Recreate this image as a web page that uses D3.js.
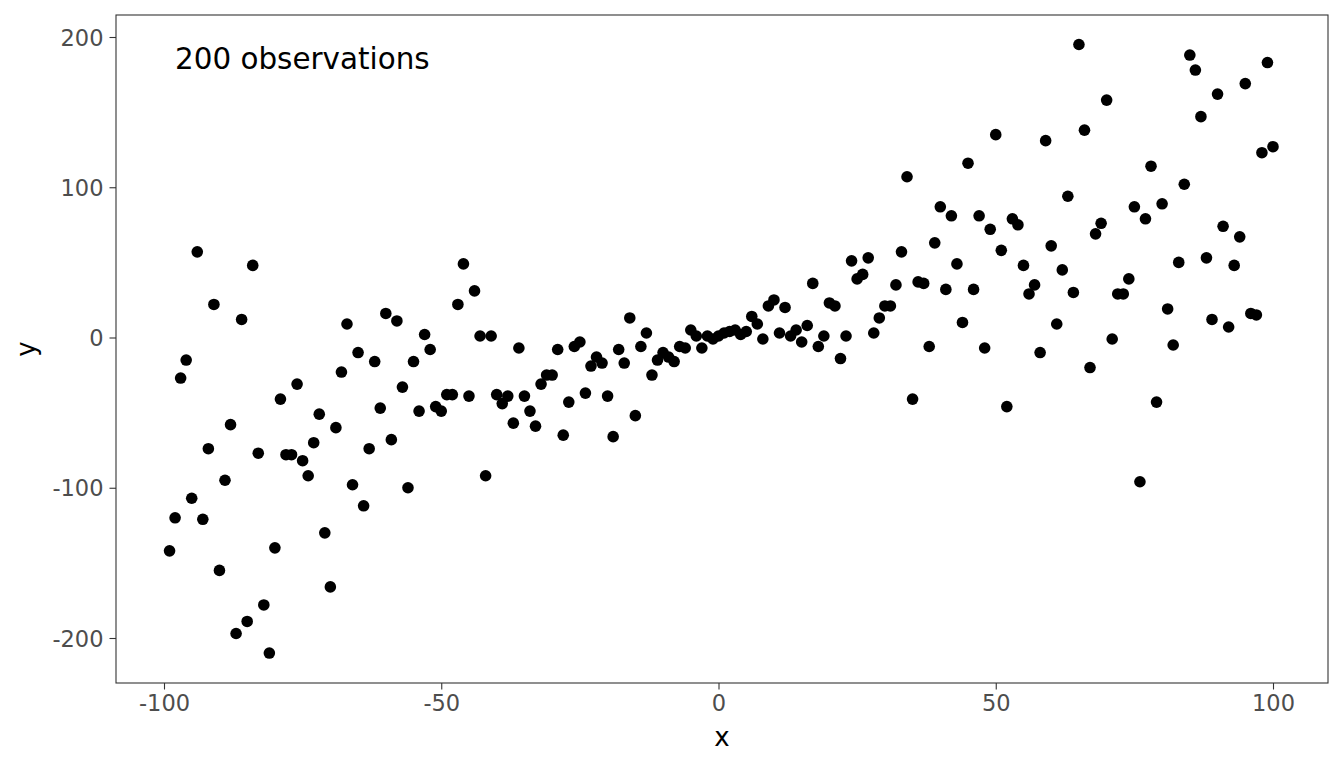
<!DOCTYPE html>
<html>
<head>
<meta charset="utf-8">
<script src="https://cdn.jsdelivr.net/npm/d3@7"></script>
<style>
  body { margin: 0; background: #fff; }
  svg { display: block; font-family: "DejaVu Sans", sans-serif; }
</style>
</head>
<body>
<div id="chart"></div>
<script>
// x runs -99..100, one observation per integer
var xValues = d3.range(-99, 101);

// y values, in x order
var yValues = [
  -142, -120, -27, -15, -107, 57, -121, -74, 22, -155,
  -95, -58, -197, 12, -189, 48, -77, -178, -210, -140,
  -41, -78, -78, -31, -82, -92, -70, -51, -130, -166,
  -60, -23, 9, -98, -10, -112, -74, -16, -47, 16,
  -68, 11, -33, -100, -16, -49, 2, -8, -46, -49,
  -38, -38, 22, 49, -39, 31, 1, -92, 1, -38,
  -44, -39, -57, -7, -39, -49, -59, -31, -25, -25,
  -8, -65, -43, -6, -3, -37, -19, -13, -17, -39,
  -66, -8, -17, 13, -52, -6, 3, -25, -15, -10,
  -13, -16, -6, -7, 5, 1, -7, 1, -1, 1,
  3, 4, 5, 2, 4, 14, 9, -1, 21, 25,
  3, 20, 1, 5, -3, 8, 36, -6, 1, 23,
  21, -14, 1, 51, 39, 42, 53, 3, 13, 21,
  21, 35, 57, 107, -41, 37, 36, -6, 63, 87,
  32, 81, 49, 10, 116, 32, 81, -7, 72, 135,
  58, -46, 79, 75, 48, 29, 35, -10, 131, 61,
  9, 45, 94, 30, 195, 138, -20, 69, 76, 158,
  -1, 29, 29, 39, 87, -96, 79, 114, -43, 89,
  19, -5, 50, 102, 188, 178, 147, 53, 12, 162,
  74, 7, 48, 67, 169, 16, 15, 123, 183, 127
];

var xTicks = [-100, -50, 0, 50, 100];
var yTicks = [-200, -100, 0, 100, 200];
var noteText = "200 observations";

var width = 1344, height = 768;
var panel = {left: 116, right: 1328, top: 15, bottom: 683};

var data = xValues.map(function(x, i) { return {x: x, y: yValues[i]}; });

var x = d3.scaleLinear().domain([-100, 100]).range([164, 1273]);
var y = d3.scaleLinear().domain([-200, 200]).range([638, 37]);

// plain hyphen for negatives, like the original
var fmt = function(d) { return String(d); };

var svg = d3.select("#chart").append("svg")
  .attr("width", width)
  .attr("height", height);

// points
svg.append("g")
  .selectAll("circle")
  .data(data)
  .enter().append("circle")
  .attr("cx", function(d) { return x(d.x); })
  .attr("cy", function(d) { return y(d.y); })
  .attr("r", 5.8)
  .style("fill", "#000");

// panel border
svg.append("rect")
  .attr("x", panel.left)
  .attr("y", panel.top)
  .attr("width", panel.right - panel.left)
  .attr("height", panel.bottom - panel.top)
  .style("fill", "none")
  .style("stroke", "#333")
  .style("stroke-width", 1.1);

// axes
var xAxis = svg.append("g")
  .attr("transform", "translate(0," + panel.bottom + ")")
  .call(d3.axisBottom(x).tickValues(xTicks).tickFormat(fmt).tickSize(6.5).tickPadding(6));
var yAxis = svg.append("g")
  .attr("transform", "translate(" + panel.left + ",0)")
  .call(d3.axisLeft(y).tickValues(yTicks).tickFormat(fmt).tickSize(6.5).tickPadding(6));

[xAxis, yAxis].forEach(function(g) {
  g.select(".domain").remove();
  g.selectAll(".tick line").style("stroke", "#333").style("stroke-width", 1.1);
  g.selectAll(".tick text")
    .style("fill", "#4d4d4d")
    .style("font-size", "22.5px")
    .style("font-family", "DejaVu Sans, sans-serif");
});
yAxis.selectAll(".tick text").attr("dy", "0.36em");

// axis titles
svg.append("text")
  .attr("x", (panel.left + panel.right) / 2)
  .attr("y", 746)
  .attr("text-anchor", "middle")
  .style("font-size", "26px")
  .text("x");

svg.append("text")
  .attr("transform", "translate(35," + ((panel.top + panel.bottom) / 2) + ") rotate(-90)")
  .attr("text-anchor", "middle")
  .style("font-size", "26px")
  .text("y");

// annotation
svg.append("text")
  .attr("x", 175)
  .attr("y", 68.5)
  .style("font-size", "29.4px")
  .text(noteText);
</script>
</body>
</html>
